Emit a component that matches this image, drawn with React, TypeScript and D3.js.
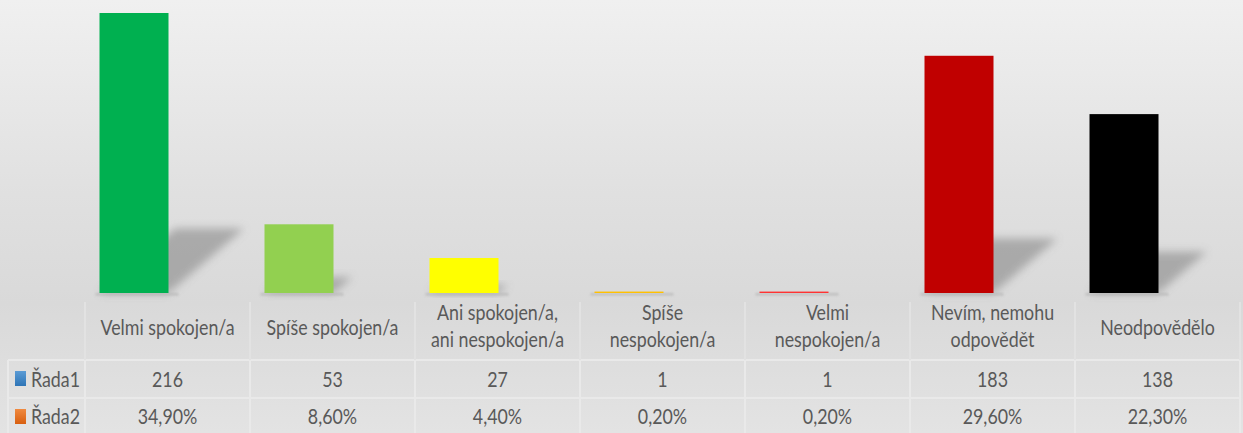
import React from "react";
import * as d3 from "d3";

const categories: string[][] = [
  ["Velmi spokojen/a"],
  ["Spíše spokojen/a"],
  ["Ani spokojen/a,", "ani nespokojen/a"],
  ["Spíše", "nespokojen/a"],
  ["Velmi", "nespokojen/a"],
  ["Nevím, nemohu", "odpovědět"],
  ["Neodpovědělo"],
];
const counts: number[] = [216, 53, 27, 1, 1, 183, 138];
const percents: string[] = ["34,90%", "8,60%", "4,40%", "0,20%", "0,20%", "29,60%", "22,30%"];
const barColors: string[] = ["#00b050", "#92d050", "#ffff00", "#ffc000", "#ff3333", "#c00000", "#000000"];
const seriesNames: string[] = ["Řada1", "Řada2"];

const W = 1243;
const H = 433;
const FONT = "Lato, 'Open Sans', sans-serif";
const SX = 0.81;
const TXT = "#595959";

export default function App() {
  const ids = categories.map((_, i) => String(i));
  const x = d3.scaleBand<string>().domain(ids).range([85, 1240]).paddingInner(0);
  const y = d3.scaleLinear().domain([0, 216]).range([293, 13]);
  const base = y(0);
  const barOffset = 14.5;
  const barW = 69;

  const label = (t: string, cx: number, by: number, anchor: string, key: string) => (
    <text
      key={key}
      transform={`translate(${cx},${by}) scale(${SX},1)`}
      textAnchor={anchor}
      fontFamily={FONT}
      fontSize={22}
      fill={TXT}
    >
      {t}
    </text>
  );

  const lineColor = "#e9e9e9";

  return (
    <svg width={W} height={H} style={{ position: "absolute", left: 0, top: 0 }}>
      <defs>
        <linearGradient id="bg" x1="0" y1="0" x2="0" y2="1">
          <stop offset="0" stopColor="#f0f0f0" />
          <stop offset="0.45" stopColor="#e0e0e0" />
          <stop offset="0.7" stopColor="#d9d9d9" />
          <stop offset="1" stopColor="#e3e3e3" />
        </linearGradient>
        <filter id="blur" x="-50%" y="-50%" width="200%" height="200%">
          <feGaussianBlur stdDeviation="4" />
        </filter>
        <filter id="blur2" x="-20%" y="-200%" width="140%" height="500%">
          <feGaussianBlur stdDeviation="1.2" />
        </filter>
        <linearGradient id="lgBlue" x1="0" y1="0" x2="0" y2="1">
          <stop offset="0" stopColor="#5b9bd5" />
          <stop offset="1" stopColor="#2e75b6" />
        </linearGradient>
        <linearGradient id="lgOrange" x1="0" y1="0" x2="0" y2="1">
          <stop offset="0" stopColor="#f08a40" />
          <stop offset="1" stopColor="#d85f10" />
        </linearGradient>
      </defs>
      <rect x={0} y={0} width={W} height={H} fill="url(#bg)" />

      {/* shadows */}
      {counts.map((v, i) => {
        const x0 = (x(ids[i]) as number) + barOffset;
        const x1 = x0 + barW;
        const h = base - y(v);
        const dx = h * 0.27;
        const sh = h * 0.23;
        const pts = [
          [x0, base],
          [x1, base],
          [x1 + dx, base - sh],
          [x0 + dx, base - sh],
        ]
          .map((p) => p.join(","))
          .join(" ");
        return (
          <g key={"s" + i}>
            {h > 3 && <polygon points={pts} fill="#999999" opacity={0.75} filter="url(#blur)" />}
            <rect x={x0 - 4} y={base} width={barW + 14} height={2.5} fill="#b5b5b5" opacity={0.7} filter="url(#blur2)" />
          </g>
        );
      })}

      {/* bars */}
      {counts.map((v, i) => {
        const x0 = (x(ids[i]) as number) + barOffset;
        const h = Math.max(base - y(v), 1.4);
        return <rect key={"b" + i} x={x0} y={base - h} width={barW} height={h} fill={barColors[i]} />;
      })}

      {/* table lines */}
      <g stroke={lineColor} strokeWidth={2}>
        <line x1={8} x2={1240} y1={360} y2={360} />
        <line x1={8} x2={1240} y1={398} y2={398} />
        <line x1={8} x2={8} y1={360} y2={H} />
        <line x1={85} x2={85} y1={360} y2={H} />
        {ids.map((id) => {
          const xe = (x(id) as number) + x.bandwidth();
          return <line key={"v" + id} x1={xe} x2={xe} y1={360} y2={H} />;
        })}
      </g>
      <g stroke="#e2e2e2" strokeWidth={2}>
        <line x1={85} x2={85} y1={302} y2={360} />
        {ids.map((id) => {
          const xe = (x(id) as number) + x.bandwidth();
          return <line key={"h" + id} x1={xe} x2={xe} y1={302} y2={360} />;
        })}
      </g>

      {/* category labels */}
      {categories.map((lines, i) => {
        const cx = (x(ids[i]) as number) + x.bandwidth() / 2;
        if (lines.length === 1) return label(lines[0], cx, 334.5, "middle", "c" + i);
        return (
          <g key={"c" + i}>
            {label(lines[0], cx, 319.5, "middle", "c" + i + "a")}
            {label(lines[1], cx, 347, "middle", "c" + i + "b")}
          </g>
        );
      })}

      {/* legend keys + series names */}
      <rect x={15} y={371} width={11} height={15} fill="url(#lgBlue)" />
      <rect x={15} y={409} width={11} height={15} fill="url(#lgOrange)" />
      {label(seriesNames[0], 31, 386.5, "start", "sn0")}
      {label(seriesNames[1], 31, 424, "start", "sn1")}

      {/* values */}
      {counts.map((v, i) => {
        const cx = (x(ids[i]) as number) + x.bandwidth() / 2;
        return label(String(v), cx, 386.5, "middle", "v" + i);
      })}
      {percents.map((p, i) => {
        const cx = (x(ids[i]) as number) + x.bandwidth() / 2;
        return label(p, cx, 424, "middle", "p" + i);
      })}
    </svg>
  );
}
